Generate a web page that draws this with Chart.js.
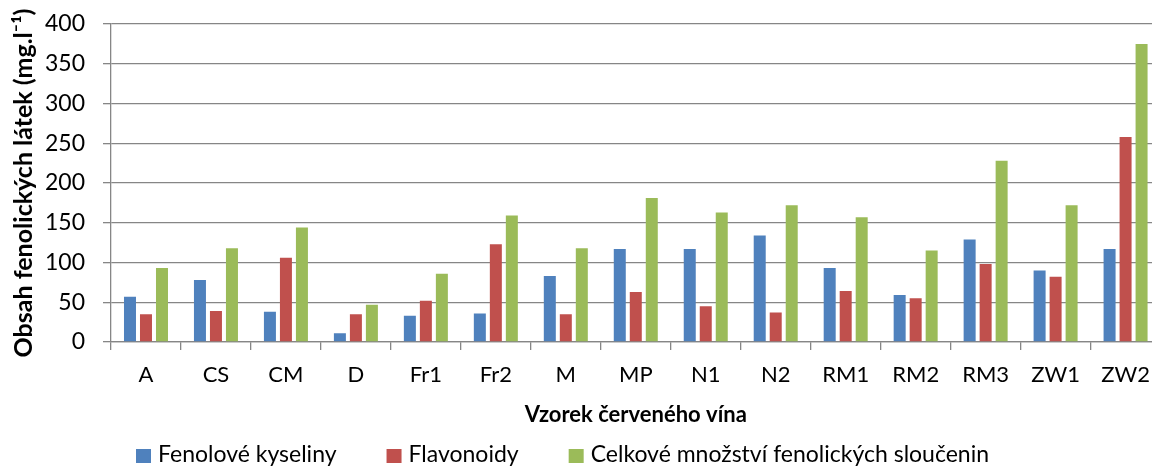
<!DOCTYPE html>
<html>
<head>
<meta charset="utf-8">
<script src="https://cdn.jsdelivr.net/npm/chart.js@4"></script>
<style>
  html, body { margin: 0; padding: 0; background: #fff; overflow: hidden; }
  #wrap { width: 1162px; height: 468px; }
</style>
</head>
<body>
<div id="wrap"><canvas id="myChart" width="1162" height="468"></canvas></div>
<script>
const categories = ['A', 'CS', 'CM', 'D', 'Fr1', 'Fr2', 'M', 'MP', 'N1', 'N2', 'RM1', 'RM2', 'RM3', 'ZW1', 'ZW2'];
const fenoloveKyseliny = [57, 78, 38, 11, 33, 36, 83, 117, 117, 134, 93, 59, 129, 90, 117];
const flavonoidy = [35, 39, 106, 35, 52, 123, 35, 63, 45, 37, 64, 55, 98, 82, 258];
const celkove = [93, 118, 144, 47, 86, 159, 118, 181, 163, 172, 157, 115, 228, 172, 375];
const yTicks = [0, 50, 100, 150, 200, 250, 300, 350, 400];

const gridColor = '#868686';
const fontFamily = 'Lato, "Open Sans", sans-serif';

// Excel-style legend row under the axis title
const bottomLegend = {
  id: 'bottomLegend',
  afterDraw(chart, args, opts) {
    const ctx = chart.ctx;
    ctx.save();
    ctx.font = opts.fontSize + 'px ' + fontFamily;
    ctx.textBaseline = 'middle';
    ctx.textAlign = 'left';
    let x = opts.left;
    chart.data.datasets.forEach(ds => {
      ctx.fillStyle = ds.backgroundColor;
      ctx.fillRect(x, opts.y - opts.boxHeight / 2 + 1, opts.boxWidth, opts.boxHeight);
      x += opts.boxWidth + opts.gap;
      ctx.fillStyle = '#000';
      ctx.fillText(ds.label, x, opts.y);
      x += ctx.measureText(ds.label).width + opts.spacing;
    });
    ctx.restore();
  }
};

new Chart(document.getElementById('myChart').getContext('2d'), {
  type: 'bar',
  data: {
    labels: categories,
    datasets: [
      { label: 'Fenolové kyseliny', data: fenoloveKyseliny, backgroundColor: '#4F81BD' },
      { label: 'Flavonoidy', data: flavonoidy, backgroundColor: '#C0504D' },
      { label: 'Celkové množství fenolických sloučenin', data: celkove, backgroundColor: '#9BBB59' }
    ]
  },
  plugins: [bottomLegend],
  options: {
    responsive: false,
    animation: false,
    layout: { padding: { top: 24, right: 1, bottom: 40, left: 0 } },
    datasets: { bar: { categoryPercentage: 0.686, barPercentage: 0.75 } },
    plugins: {
      tooltip: { enabled: false },
      legend: { display: false },
      bottomLegend: { left: 136, y: 455, fontSize: 23, boxWidth: 15, boxHeight: 14, gap: 7, spacing: 50 }
    },
    scales: {
      x: {
        offset: true,
        grid: {
          offset: true,
          drawOnChartArea: false,
          drawTicks: true,
          tickLength: 8,
          color: gridColor,
          lineWidth: 1.3
        },
        border: { color: gridColor, width: 1.3 },
        ticks: { color: '#000', font: { family: fontFamily, size: 22 }, padding: 12, maxRotation: 0 },
        title: {
          display: true,
          text: 'Vzorek červeného vína',
          color: '#000',
          font: { family: fontFamily, size: 22, weight: 'bold' },
          padding: { top: 0, bottom: 0 }
        },
        afterFit(scale) { scale.height = 86; }
      },
      y: {
        min: 0,
        max: 400,
        afterBuildTicks(scale) { scale.ticks = yTicks.map(v => ({ value: v })); },
        grid: { color: gridColor, lineWidth: 1.3, tickLength: 8 },
        border: { color: gridColor, width: 1.3 },
        ticks: { color: '#000', font: { family: fontFamily, size: 23 }, padding: 18 },
        title: {
          display: true,
          text: 'Obsah fenolických látek (mg.l⁻¹)',
          color: '#000',
          font: { family: fontFamily, size: 25, weight: 'bold' },
          padding: { top: 9, bottom: 0 }
        },
        afterFit(scale) {
          scale.width = 111;
          scale.paddingTop = 0;
          scale.paddingBottom = 0;
        }
      }
    }
  }
});
</script>
</body>
</html>
